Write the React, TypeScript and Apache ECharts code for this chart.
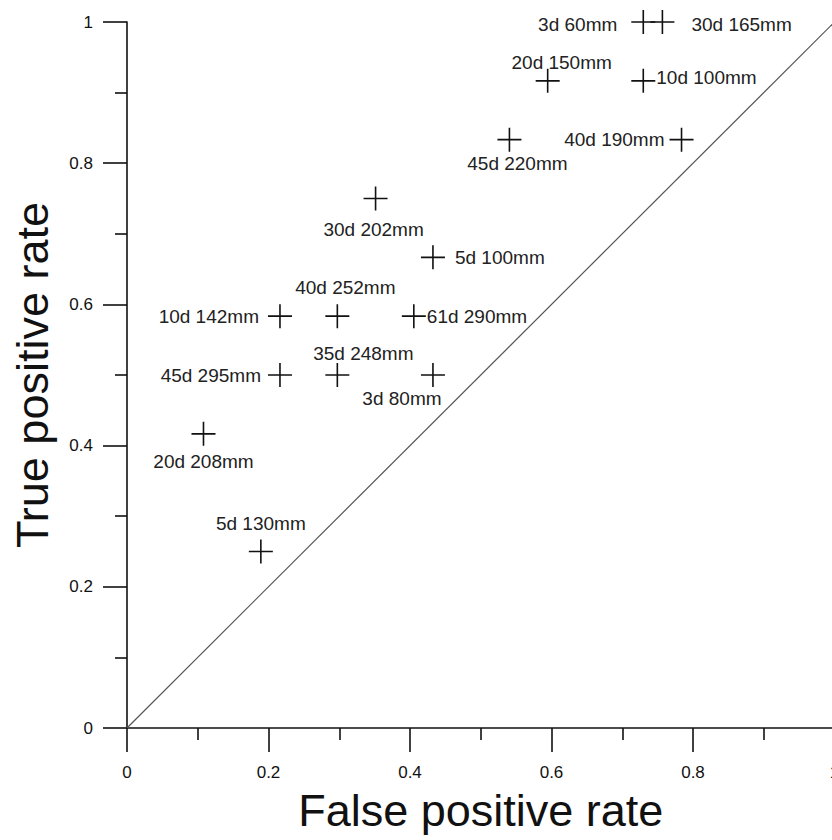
import React, { useEffect, useRef } from "react";
import * as echarts from "echarts";

// ROC points: false positive rate (k/37) and true positive rate (m/12)
const pointLabels = [
  "3d 60mm", "30d 165mm", "20d 150mm", "10d 100mm", "45d 220mm", "40d 190mm",
  "30d 202mm", "5d 100mm", "40d 252mm", "10d 142mm", "61d 290mm", "35d 248mm",
  "45d 295mm", "3d 80mm", "20d 208mm", "5d 130mm",
];
const falsePositiveRate = [
  27 / 37, 28 / 37, 22 / 37, 27 / 37, 20 / 37, 29 / 37,
  13 / 37, 16 / 37, 11 / 37, 8 / 37, 15 / 37, 11 / 37,
  8 / 37, 16 / 37, 4 / 37, 7 / 37,
];
const truePositiveRate = [
  12 / 12, 12 / 12, 11 / 12, 11 / 12, 10 / 12, 10 / 12,
  9 / 12, 8 / 12, 7 / 12, 7 / 12, 7 / 12, 6 / 12,
  6 / 12, 6 / 12, 5 / 12, 3 / 12,
];
const axisTicks = [0, 0.2, 0.4, 0.6, 0.8, 1];

// where each label sits relative to its cross: [align, dx, dy]
const labelPlacement: Record<string, [string, number, number]> = {
  "3d 60mm": ["right", -26, 2],
  "30d 165mm": ["left", 29, 2],
  "20d 150mm": ["center", 14, -18],
  "10d 100mm": ["left", 13, -3],
  "45d 220mm": ["center", 8, 24],
  "40d 190mm": ["right", -17, 0],
  "30d 202mm": ["center", -2, 31],
  "5d 100mm": ["left", 22, 0],
  "40d 252mm": ["center", 8, -29],
  "10d 142mm": ["right", -21, 0],
  "61d 290mm": ["left", 13, 0],
  "35d 248mm": ["center", 26, -22],
  "45d 295mm": ["right", -19, 0],
  "3d 80mm": ["center", -31, 23],
  "20d 208mm": ["center", 0, 28],
  "5d 130mm": ["center", 0, -28],
};

const FONT = "'Liberation Sans', Arial, Helvetica, sans-serif";
const INK = "#111";
const CROSS =
  "path://M11.2,0 H12.8 V11.2 H24 V12.8 H12.8 V24 H11.2 V12.8 H0 V11.2 H11.2 Z";

function valueAxis(name: string, gap: number, labelMargin: number) {
  return {
    type: "value",
    min: axisTicks[0],
    max: axisTicks[axisTicks.length - 1],
    interval: axisTicks[1] - axisTicks[0],
    name,
    nameLocation: "middle",
    nameGap: gap,
    nameTextStyle: { fontFamily: FONT, fontSize: 45, color: INK },
    axisLine: { show: true, lineStyle: { color: INK, width: 1.6 } },
    axisTick: { show: true, inside: false, length: 24, lineStyle: { color: INK, width: 1.6 } },
    minorTick: { show: true, splitNumber: 2, length: 12, lineStyle: { color: INK, width: 1.6 } },
    axisLabel: {
      margin: labelMargin,
      fontFamily: FONT,
      fontSize: 17,
      color: INK,
      showMinLabel: true,
      showMaxLabel: true,
    },
    splitLine: { show: false },
    minorSplitLine: { show: false },
  };
}

export default function App() {
  const ref = useRef<HTMLDivElement>(null);

  useEffect(() => {
    if (!ref.current) return;
    const chart = echarts.init(ref.current, undefined, { renderer: "svg" });

    const points = pointLabels.map((label, i) => {
      const [align, dx, dy] = labelPlacement[label];
      return {
        name: label,
        value: [falsePositiveRate[i], truePositiveRate[i]],
        label: { align, offset: [dx, dy] },
      };
    });

    chart.setOption({
      animation: false,
      backgroundColor: "#fff",
      grid: {
        left: 127,
        top: 22,
        right: -2.5,
        bottom: 112,
        containLabel: false,
        outerBoundsMode: "none",
      },
      xAxis: valueAxis("False positive rate", 60, 36),
      yAxis: valueAxis("True positive rate", 72, 34),
      series: [
        {
          type: "line",
          data: [
            [axisTicks[0], axisTicks[0]],
            [axisTicks[axisTicks.length - 1], axisTicks[axisTicks.length - 1]],
          ],
          showSymbol: false,
          lineStyle: { color: "#555", width: 1.2 },
          silent: true,
          z: 1,
        },
        {
          type: "scatter",
          data: points,
          symbol: CROSS,
          symbolSize: 24,
          itemStyle: { color: INK, opacity: 1 },
          label: {
            show: true,
            position: "inside",
            formatter: "{b}",
            fontFamily: FONT,
            fontSize: 19,
            color: "#222",
            verticalAlign: "middle",
          },
          z: 3,
        },
      ],
    });

    return () => chart.dispose();
  }, []);

  return (
    <div
      ref={ref}
      style={{ position: "fixed", left: 0, top: 0, width: 832, height: 840, background: "#fff" }}
    />
  );
}
